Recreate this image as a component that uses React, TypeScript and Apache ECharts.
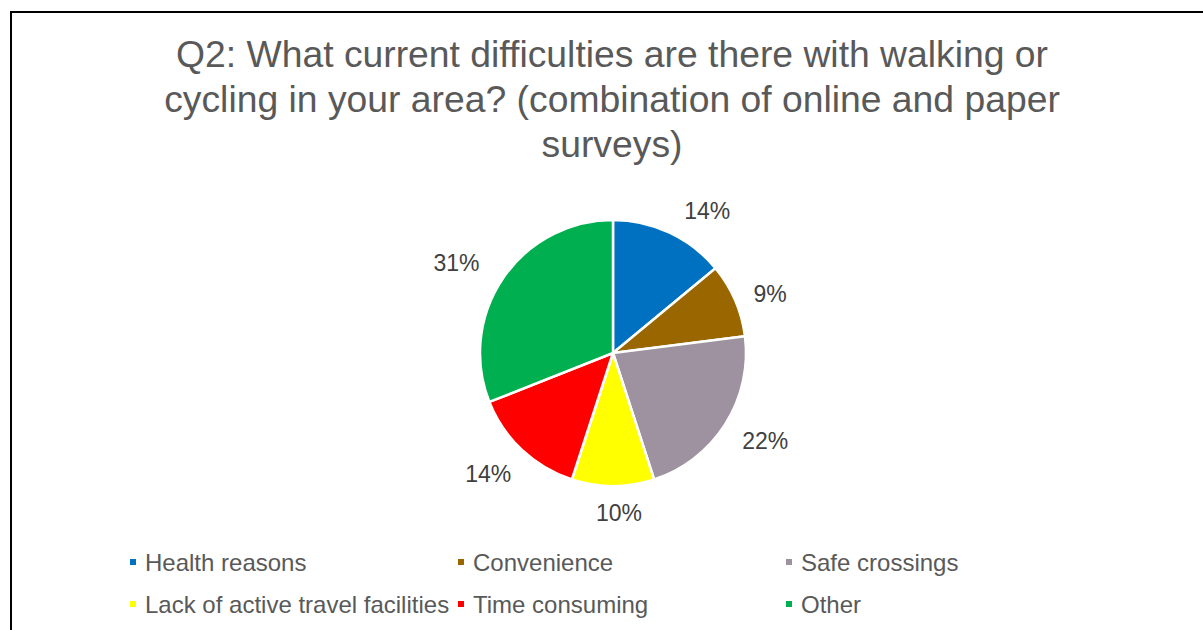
import React, { useEffect, useRef } from "react";
import * as echarts from "echarts";

const titleLines = [
  "Q2: What current difficulties are there with walking or",
  "cycling in your area? (combination of online and paper",
  "surveys)",
];
const categories = [
  "Health reasons",
  "Convenience",
  "Safe crossings",
  "Lack of active travel facilities",
  "Time consuming",
  "Other",
];
const shares = [14, 9, 22, 10, 14, 31];
const colors = ["#0070C0", "#996600", "#9E91A0", "#FFFF00", "#FF0000", "#00B050"];

export default function App() {
  const ref = useRef<HTMLDivElement>(null);
  useEffect(() => {
    if (!ref.current) return;
    const chart = echarts.init(ref.current, null, { renderer: "svg" });
    const font = "'Liberation Sans', Arial, sans-serif";
    const labelNudge: Record<number, { dx: number; dy: number }> = {
      0: { dx: 1, dy: -4 },
      1: { dx: -5, dy: 2 },
      2: { dx: -5, dy: 6 },
      3: { dx: -22, dy: 7 },
      4: { dx: 8, dy: 9 },
      5: { dx: -2, dy: -4 },
    };
    chart.setOption({
      animation: false,
      backgroundColor: "#ffffff",
      title: {
        text: titleLines.join("\n"),
        left: 607,
        textAlign: "center",
        top: 26,
        textStyle: {
          fontFamily: font,
          fontSize: 37.3,
          lineHeight: 45,
          fontWeight: "normal",
          color: "#595959",
        },
      },
      legend: {
        data: categories,
        left: 123,
        top: 539,
        width: 1000,
        orient: "horizontal",
        icon: "rect",
        itemWidth: 8,
        itemHeight: 8,
        itemGap: 6,
        textStyle: {
          fontFamily: font,
          fontSize: 24,
          lineHeight: 36,
          color: "#595959",
          width: 305,
          padding: [0, 0, 0, 3],
        },
      },
      graphic: [
        {
          type: "rect",
          shape: { x: 11, y: 12, width: 1300, height: 700 },
          style: { fill: "none", stroke: "#000000", lineWidth: 2 },
          silent: true,
        },
      ],
      series: [
        {
          type: "pie",
          center: [613, 353],
          radius: 133,
          startAngle: 90,
          clockwise: true,
          color: colors,
          itemStyle: { borderColor: "#ffffff", borderWidth: 2.5 },
          label: {
            show: true,
            position: "outside",
            formatter: (p: any) => `${p.value}%`,
            fontFamily: font,
            fontSize: 23,
            color: "#404040",
          },
          labelLine: { show: false, length: 20, length2: 0 },
          labelLayout: (p: any) => labelNudge[p.dataIndex] || {},
          emphasis: { disabled: true },
          data: categories.map((name, i) => ({ name, value: shares[i] })),
        },
      ],
    });
    return () => chart.dispose();
  }, []);
  return (
    <div
      ref={ref}
      style={{ position: "fixed", left: 0, top: 0, width: 1203, height: 630 }}
    />
  );
}
